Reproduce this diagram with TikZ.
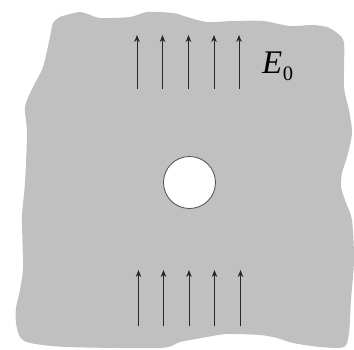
\documentclass[tikz,border=0pt]{standalone}
\usepackage{fontspec}
\newfontfamily\tms{Liberation Serif}
\usetikzlibrary{arrows.meta}
\begin{document}
\begin{tikzpicture}[x=1pt,y=-1pt,
  field/.style={line width=0.9pt,draw=black!85,-{Stealth[length=7pt,width=5.5pt,inset=2.2pt]}},
  hole/.style={circle,fill=white,draw=black!70,line width=0.8pt,minimum size=52pt,inner sep=0pt}]
\definecolor{slabgray}{RGB}{192,192,192}
\useasboundingbox (0,0) rectangle (354,349);
\fill[slabgray] plot[smooth cycle,tension=0.45] coordinates {
(53,23) (60,17) (70,14) (80,12) (88,14) (100,18) (130,17) (147,12) (173,13)
(187,17) (207,22) (233,21) (263,21) (290,26) (312,25) (327,27) (337,33)
(344,43) (344,87) (349,110) (352,133) (347,157) (342,173) (341,187) (346,203)
(352,220) (354,260) (351,300) (349,333) (344,347) (320,347) (293,343) (277,338)
(260,335) (227,334) (207,337) (180,342) (160,348) (67,347) (30,343) (20,337)
(16,323) (16,308) (20,290) (23,267) (22,217) (25,183) (27,133) (25,107)
(33,87) (43,67) (50,37)};
\node[hole] (h) at (189.5,182.5) {};
\foreach \i/\x in {1/137,2/162.5,3/188.5,4/214,5/239}{
  \coordinate (ta\i) at (\x,89);
  \coordinate (tb\i) at (\x,35);
  \draw[field] (ta\i) -- (tb\i);
}
\foreach \i/\x in {1/138.5,2/163.5,3/189,4/214.5,5/240.5}{
  \coordinate (ba\i) at (\x,326);
  \coordinate (bb\i) at (\x,270);
  \draw[field] (ba\i) -- (bb\i);
}
\node[inner sep=0pt,anchor=base west] (E) at (262,73) {\tms\scalebox{3.3}{\itshape E}\kern0.5pt\raisebox{-7pt}{\scalebox{2.05}{0}}};
\end{tikzpicture}
\end{document}
